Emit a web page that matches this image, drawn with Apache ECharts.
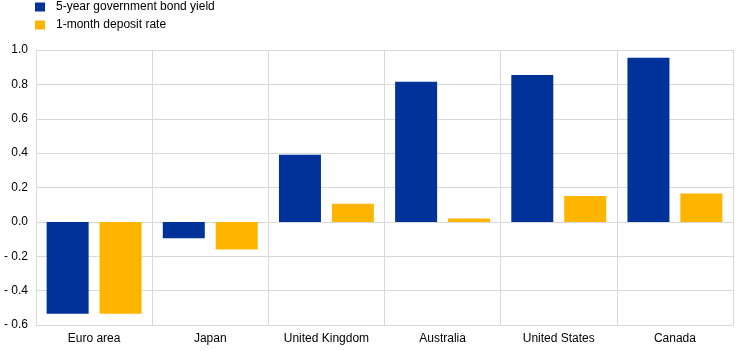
<!DOCTYPE html>
<html>
<head>
<meta charset="utf-8">
<script src="https://cdn.jsdelivr.net/npm/echarts@6/dist/echarts.min.js"></script>
<style>
  html, body { margin: 0; padding: 0; background: #fff; }
  #main { width: 742px; height: 351px; }
</style>
</head>
<body>
<div id="main"></div>
<script>
var categories = ["Euro area", "Japan", "United Kingdom", "Australia", "United States", "Canada"];
var bondYield = [-0.535, -0.095, 0.39, 0.815, 0.855, 0.955];
var depositRate = [-0.535, -0.16, 0.105, 0.02, 0.15, 0.165];
var seriesNames = ["5-year government bond yield", "1-month deposit rate"];

var chart = echarts.init(document.getElementById("main"));

chart.setOption({
  animation: false,
  textStyle: { fontFamily: "Liberation Sans, Arial, sans-serif" },
  legend: {
    orient: "vertical",
    left: 30,
    top: -4,
    itemWidth: 10,
    itemHeight: 9,
    itemGap: 6,
    icon: "rect",
    textStyle: { fontSize: 12, color: "#000", padding: [0, 0, 0, 6] },
    data: seriesNames
  },
  grid: { left: 36, right: 9, top: 50, bottom: 26 },
  xAxis: {
    type: "category",
    data: categories,
    axisLine: { onZero: false, lineStyle: { color: "#d9d9d9" } },
    axisTick: { show: false },
    axisLabel: { color: "#000", fontSize: 12, margin: 8 },
    splitLine: { show: true, interval: 0, lineStyle: { color: "#d9d9d9", width: 1 } }
  },
  yAxis: {
    type: "value",
    min: -0.6,
    max: 1.0,
    interval: 0.2,
    axisLine: { show: true, lineStyle: { color: "#d9d9d9" } },
    axisTick: { show: false },
    axisLabel: {
      color: "#000",
      fontSize: 12,
      margin: 8,
      formatter: function (v) {
        var s = Math.abs(v).toFixed(1);
        return v < -1e-9 ? "- " + s : s;
      }
    },
    splitLine: { lineStyle: { color: "#d9d9d9", width: 1 } }
  },
  series: [
    {
      name: seriesNames[0],
      type: "bar",
      data: bondYield,
      barWidth: 42,
      barGap: "26%",
      itemStyle: { color: "#003299" }
    },
    {
      name: seriesNames[1],
      type: "bar",
      data: depositRate,
      barWidth: 42,
      itemStyle: { color: "#ffb400" }
    }
  ]
});
</script>
</body>
</html>
